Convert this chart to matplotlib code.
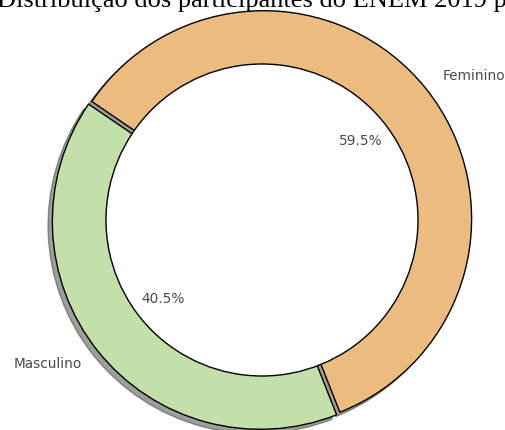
import matplotlib
matplotlib.use("Agg")
import matplotlib.pyplot as plt

# Participantes do ENEM 2019 por sexo (%)
categorias = ["Feminino", "Masculino"]
percentuais = [59.5, 40.5]
cores = ["#EBBB7F", "#C3DFAA"]
titulo = "Distribuição dos participantes do ENEM 2019 por sexo"

W, H, DPI = 506, 430, 100
fig = plt.figure(figsize=(W / DPI, H / DPI), dpi=DPI)
ax = fig.add_axes([0, 0, 1, 1])

wedges, textos, autotextos = ax.pie(
    percentuais,
    labels=categorias,
    colors=cores,
    autopct="%1.1f%%",
    startangle=-68.5,
    explode=(0.01, 0.01),
    shadow={"ox": -0.015, "oy": -0.015},
    pctdistance=0.6,
    labeldistance=1.1,
    wedgeprops={"edgecolor": "black", "linewidth": 1.0},
    textprops={"color": "#4a4a4a", "fontsize": 9.8},
)

# furo central do gráfico de rosca
ax.add_artist(plt.Circle((0, 0), 0.75, facecolor="white", edgecolor="black", linewidth=1.0))

# centro do gráfico em (262, 220) px a partir do canto superior esquerdo, raio 208 px
escala = 208.0
cx, cy = 262.0, 220.0
ax.set_xlim(-cx / escala, (W - cx) / escala)
ax.set_ylim(-(H - cy) / escala, cy / escala)
ax.set_aspect("auto")
ax.axis("off")

fig.text(-0.006, 1.0 - 6.5 / H, titulo, ha="left", va="baseline",
         family="Liberation Serif", fontsize=19, color="black")

fig.savefig("out.png", dpi=DPI)
